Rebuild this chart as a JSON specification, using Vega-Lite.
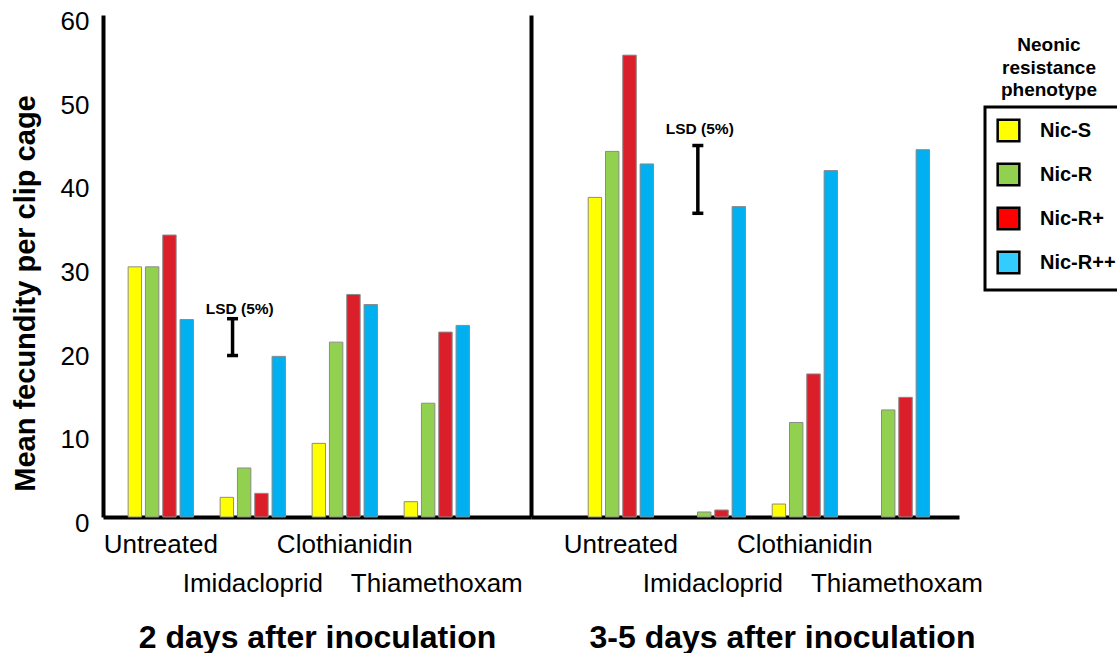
{
  "$schema": "https://vega.github.io/schema/vega-lite/v6.json",
  "background": "white",
  "padding": {"left": 11, "top": 8, "right": 0, "bottom": 0},
  "spacing": 0,
  "bounds": "flush",
  "config": {
    "font": "Liberation Sans",
    "view": {"stroke": null},
    "axis": {"grid": false}
  },
  "datasets": {
    "d2": [
      {"treatment": "Untreated", "phenotype": "Nic-S", "fecundity": 29.9},
      {"treatment": "Untreated", "phenotype": "Nic-R", "fecundity": 29.9},
      {"treatment": "Untreated", "phenotype": "Nic-R+", "fecundity": 33.7},
      {"treatment": "Untreated", "phenotype": "Nic-R++", "fecundity": 23.6},
      {"treatment": "Imidacloprid", "phenotype": "Nic-S", "fecundity": 2.35},
      {"treatment": "Imidacloprid", "phenotype": "Nic-R", "fecundity": 5.86},
      {"treatment": "Imidacloprid", "phenotype": "Nic-R+", "fecundity": 2.83},
      {"treatment": "Imidacloprid", "phenotype": "Nic-R++", "fecundity": 19.2},
      {"treatment": "Clothianidin", "phenotype": "Nic-S", "fecundity": 8.8},
      {"treatment": "Clothianidin", "phenotype": "Nic-R", "fecundity": 20.9},
      {"treatment": "Clothianidin", "phenotype": "Nic-R+", "fecundity": 26.6},
      {"treatment": "Clothianidin", "phenotype": "Nic-R++", "fecundity": 25.4},
      {"treatment": "Thiamethoxam", "phenotype": "Nic-S", "fecundity": 1.83},
      {"treatment": "Thiamethoxam", "phenotype": "Nic-R", "fecundity": 13.6},
      {"treatment": "Thiamethoxam", "phenotype": "Nic-R+", "fecundity": 22.1},
      {"treatment": "Thiamethoxam", "phenotype": "Nic-R++", "fecundity": 22.9}
    ],
    "d35": [
      {"treatment": "Untreated", "phenotype": "Nic-S", "fecundity": 38.2},
      {"treatment": "Untreated", "phenotype": "Nic-R", "fecundity": 43.7},
      {"treatment": "Untreated", "phenotype": "Nic-R+", "fecundity": 55.2},
      {"treatment": "Untreated", "phenotype": "Nic-R++", "fecundity": 42.2},
      {"treatment": "Imidacloprid", "phenotype": "Nic-R", "fecundity": 0.6},
      {"treatment": "Imidacloprid", "phenotype": "Nic-R+", "fecundity": 0.84},
      {"treatment": "Imidacloprid", "phenotype": "Nic-R++", "fecundity": 37.1},
      {"treatment": "Clothianidin", "phenotype": "Nic-S", "fecundity": 1.55},
      {"treatment": "Clothianidin", "phenotype": "Nic-R", "fecundity": 11.3},
      {"treatment": "Clothianidin", "phenotype": "Nic-R+", "fecundity": 17.1},
      {"treatment": "Clothianidin", "phenotype": "Nic-R++", "fecundity": 41.4},
      {"treatment": "Thiamethoxam", "phenotype": "Nic-R", "fecundity": 12.8},
      {"treatment": "Thiamethoxam", "phenotype": "Nic-R+", "fecundity": 14.3},
      {"treatment": "Thiamethoxam", "phenotype": "Nic-R++", "fecundity": 43.9}
    ],
    "lsd2": [{"treatment": "Imidacloprid", "lo": 19.3, "hi": 23.7, "label": "LSD (5%)"}],
    "lsd35": [{"treatment": "Imidacloprid", "lo": 36.3, "hi": 44.4, "label": "LSD (5%)"}]
  },
  "resolve": {
    "scale": {"x": "independent", "y": "independent", "xOffset": "independent", "color": "independent", "fill": "independent"},
    "legend": {"color": "independent", "fill": "independent"}
  },
  "hconcat": [
    {
      "width": 428,
      "height": 502,
      "layer": [
        {
          "data": {"name": "d2"},
          "mark": {"type": "bar", "stroke": "#8c8c8c", "strokeWidth": 1},
          "encoding": {
            "x": {
              "field": "treatment", "type": "nominal",
              "sort": ["Untreated", "Imidacloprid", "Clothianidin", "Thiamethoxam"],
              "scale": {"paddingInner": 0.29, "paddingOuter": 0.471, "align": 0.29},
              "axis": {
                "domainColor": "black", "domainWidth": 4, "ticks": false,
                "labelAngle": 0, "labelFontSize": 26, "labelColor": "black",
                "labelPadding": 14, "labelLineHeight": 39, "labelOverlap": false,
                "labelLimit": 300, "labelBound": false,
                "labelExpr": "datum.value == 'Imidacloprid' || datum.value == 'Thiamethoxam' ? ['', datum.value] : datum.value",
                "title": "2 days after inoculation",
                "titleFontSize": 32, "titleFontWeight": "bold", "titleColor": "black",
                "titlePadding": 26
              }
            },
            "xOffset": {
              "field": "phenotype", "type": "nominal",
              "sort": ["Nic-S", "Nic-R", "Nic-R+", "Nic-R++"],
              "scale": {"paddingInner": 0.225, "paddingOuter": 0}
            },
            "y": {
              "field": "fecundity", "type": "quantitative",
              "scale": {"domain": [0, 60]},
              "axis": {
                "values": [0, 10, 20, 30, 40, 50, 60],
                "domainColor": "black", "domainWidth": 4, "ticks": false,
                "labelFontSize": 26, "labelColor": "black", "labelPadding": 14,
                "labelOffset": 6.5,
                "title": "Mean fecundity per clip cage",
                "titleFontSize": 29, "titleFontWeight": "bold", "titleColor": "black",
                "titleY": 278, "titlePadding": 20
              }
            },
            "color": {
              "field": "phenotype", "type": "nominal",
              "scale": {"domain": ["Nic-S", "Nic-R", "Nic-R+", "Nic-R++"], "range": ["#FFFF00", "#92D050", "#DA1F2B", "#00B0F0"]},
              "legend": {
                "title": ["Neonic", "resistance", "phenotype"],
                "orient": "none", "legendX": 898, "legendY": 21, "padding": 0,
                "titleFontSize": 19, "titleFontWeight": "bold", "titleColor": "black",
                "titleLineHeight": 22.5, "titleAlign": "center", "titleAnchor": "middle",
                "titlePadding": 0,
                "symbolOpacity": 0, "symbolSize": 1, "symbolStrokeWidth": 0,
                "labelOpacity": 0, "labelFontSize": 1, "rowPadding": 0
              }
            }
          }
        },
        {
          "data": {"name": "lsd2"},
          "mark": {"type": "rule", "color": "black", "strokeWidth": 3.5},
          "encoding": {
            "x": {"field": "treatment", "type": "nominal", "sort": ["Untreated", "Imidacloprid", "Clothianidin", "Thiamethoxam"], "bandPosition": 0.19},
            "y": {"field": "lo", "type": "quantitative"},
            "y2": {"field": "hi"}
          }
        },
        {
          "data": {"name": "lsd2"},
          "transform": [{"fold": ["lo", "hi"], "as": ["end", "val"]}],
          "mark": {"type": "point", "shape": "M-1,0L1,0", "size": 121, "filled": false, "color": "black", "strokeWidth": 3.5, "opacity": 1},
          "encoding": {
            "x": {"field": "treatment", "type": "nominal", "sort": ["Untreated", "Imidacloprid", "Clothianidin", "Thiamethoxam"], "bandPosition": 0.19},
            "y": {"field": "val", "type": "quantitative"}
          }
        },
        {
          "data": {"name": "lsd2"},
          "mark": {"type": "text", "fontWeight": "bold", "fontSize": 15.5, "color": "black", "dy": -10},
          "encoding": {
            "x": {"field": "treatment", "type": "nominal", "sort": ["Untreated", "Imidacloprid", "Clothianidin", "Thiamethoxam"], "bandPosition": 0.3},
            "y": {"field": "hi", "type": "quantitative"},
            "text": {"field": "label"}
          }
        }
      ]
    },
    {
      "width": 428,
      "height": 502,
      "layer": [
        {
          "data": {"name": "d35"},
          "mark": {"type": "bar"},
          "encoding": {
            "x": {
              "field": "treatment", "type": "nominal",
              "sort": ["Untreated", "Imidacloprid", "Clothianidin", "Thiamethoxam"],
              "scale": {"paddingInner": 0.29, "paddingOuter": 0.471, "align": 0.66},
              "axis": {
                "domainColor": "black", "domainWidth": 4, "ticks": false,
                "labelAngle": 0, "labelFontSize": 26, "labelColor": "black",
                "labelPadding": 14, "labelLineHeight": 39, "labelOverlap": false,
                "labelLimit": 300, "labelBound": false,
                "labelExpr": "datum.value == 'Imidacloprid' || datum.value == 'Thiamethoxam' ? ['', datum.value] : datum.value",
                "title": "3-5 days after inoculation",
                "titleFontSize": 32, "titleFontWeight": "bold", "titleColor": "black",
                "titlePadding": 26, "titleX": 251
              }
            },
            "xOffset": {
              "field": "phenotype", "type": "nominal",
              "sort": ["Nic-S", "Nic-R", "Nic-R+", "Nic-R++"],
              "scale": {"domain": ["Nic-S", "Nic-R", "Nic-R+", "Nic-R++"], "paddingInner": 0.225, "paddingOuter": 0}
            },
            "y": {
              "field": "fecundity", "type": "quantitative",
              "scale": {"domain": [0, 60]},
              "axis": {"domainColor": "black", "domainWidth": 4, "ticks": false, "labels": false, "title": null}
            },
            "fill": {
              "field": "phenotype", "type": "nominal",
              "scale": {"domain": ["Nic-S", "Nic-R", "Nic-R+", "Nic-R++"], "range": ["#FFFF00", "#92D050", "#FF0000", "#33CCFF"]},
              "legend": {
                "title": null, "orient": "none", "legendX": 454, "legendY": 92,
                "padding": 11, "strokeColor": "black",
                "symbolType": "square", "symbolSize": 470, "symbolOpacity": 1,
                "symbolStrokeColor": "black", "symbolStrokeWidth": 2.5,
                "labelFontSize": 20, "labelFontWeight": "bold", "labelColor": "black",
                "labelOffset": 19, "rowPadding": 11, "labelLimit": 300,
                "encode": {
                  "legend": {"update": {"strokeWidth": {"value": 3}}},
                  "symbols": {"update": {"stroke": {"value": "black"}, "strokeWidth": {"value": 2.5}}}
                }
              }
            }
          }
        },
        {
          "data": {"name": "d35"},
          "mark": {"type": "bar", "stroke": "#8c8c8c", "strokeWidth": 1},
          "encoding": {
            "x": {"field": "treatment", "type": "nominal", "sort": ["Untreated", "Imidacloprid", "Clothianidin", "Thiamethoxam"]},
            "xOffset": {"field": "phenotype", "type": "nominal", "sort": ["Nic-S", "Nic-R", "Nic-R+", "Nic-R++"]},
            "y": {"field": "fecundity", "type": "quantitative"},
            "color": {
              "field": "phenotype", "type": "nominal",
              "scale": {"domain": ["Nic-S", "Nic-R", "Nic-R+", "Nic-R++"], "range": ["#FFFF00", "#92D050", "#DA1F2B", "#00B0F0"]},
              "legend": null
            }
          }
        },
        {
          "data": {"name": "lsd35"},
          "mark": {"type": "rule", "color": "black", "strokeWidth": 3.5},
          "encoding": {
            "x": {"field": "treatment", "type": "nominal", "sort": ["Untreated", "Imidacloprid", "Clothianidin", "Thiamethoxam"], "bandPosition": 0.27},
            "y": {"field": "lo", "type": "quantitative"},
            "y2": {"field": "hi"}
          }
        },
        {
          "data": {"name": "lsd35"},
          "transform": [{"fold": ["lo", "hi"], "as": ["end", "val"]}],
          "mark": {"type": "point", "shape": "M-1,0L1,0", "size": 121, "filled": false, "color": "black", "strokeWidth": 3.5, "opacity": 1},
          "encoding": {
            "x": {"field": "treatment", "type": "nominal", "sort": ["Untreated", "Imidacloprid", "Clothianidin", "Thiamethoxam"], "bandPosition": 0.27},
            "y": {"field": "val", "type": "quantitative"}
          }
        },
        {
          "data": {"name": "lsd35"},
          "mark": {"type": "text", "fontWeight": "bold", "fontSize": 15.5, "color": "black", "dy": -17},
          "encoding": {
            "x": {"field": "treatment", "type": "nominal", "sort": ["Untreated", "Imidacloprid", "Clothianidin", "Thiamethoxam"], "bandPosition": 0.3},
            "y": {"field": "hi", "type": "quantitative"},
            "text": {"field": "label"}
          }
        }
      ]
    }
  ]
}
